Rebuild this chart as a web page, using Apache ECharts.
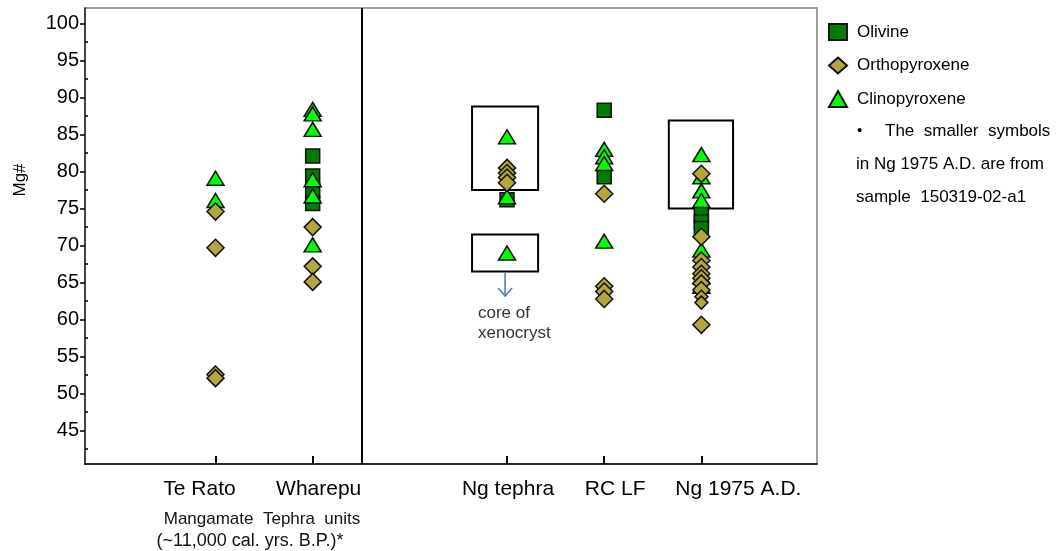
<!DOCTYPE html>
<html>
<head>
<meta charset="utf-8">
<script src="https://cdn.jsdelivr.net/npm/echarts@6/dist/echarts.min.js"></script>
<style>
  html, body { margin: 0; padding: 0; background: #fff; }
  #chart { width: 1062px; height: 551px; }
</style>
</head>
<body>
<div id="chart"></div>
<script>
// Sample units along the x axis and where each sits on it
const units = ['Te Rato', 'Wharepu', 'Ng tephra', 'RC LF', 'Ng 1975 A.D.'];
const unitPos = [1, 2, 4, 5, 6];

// Mg# values, one list per unit (same order as `units`)
const olivine = [
  [],
  [82.1, 79.4, 77.4, 75.7],
  [76.2],
  [88.3, 79.3],
  [74.3, 73.2, 72.3]
];
const clinopyroxene = [
  [79.1, 76.1],
  [88.4, 87.8, 85.7, 78.9, 76.7, 70.1],
  [84.7, 76.6, 69.0],
  [83.0, 82.0, 81.1, 70.6],
  [82.3, 79.3, 77.4, 76.1, 69.4, 65.8, 64.5]
];
const orthopyroxene = [
  [74.6, 69.7, 52.6, 52.1],
  [72.5, 67.2, 65.1],
  [80.5, 79.8, 79.2, 78.5],
  [77.0, 64.5, 63.8, 62.8],
  [79.7, 71.2, 68.0, 67.1, 66.2, 65.6, 64.9, 64.0, 59.3]
];
// sample 150319-02-a1 (Ng 1975 A.D.), drawn with smaller symbols
const orthopyroxeneSmall = [[], [], [], [], [63.1, 62.3]];

// y axis ticks
const yTicks = [45, 50, 55, 60, 65, 70, 75, 80, 85, 90, 95, 100];
const yMinorTicks = [42.5, 47.5, 52.5, 57.5, 62.5, 67.5, 72.5, 77.5, 82.5, 87.5, 92.5, 97.5];

// outlined groups (x from, x to, Mg# from, Mg# to)
const boxX0 = [3.64, 3.64, 5.665];
const boxX1 = [4.32, 4.32, 6.326];
const boxY0 = [77.5, 66.5, 75.0];
const boxY1 = [88.8, 71.5, 86.9];

// arrow below the xenocryst box (x, Mg# from, Mg# to)
const arrowX = [3.98];
const arrowFrom = [66.3];
const arrowTo = [63.2];

// boundary between Mangamate units and younger units
const unitBoundary = 2.5;

const FONT = '"Liberation Sans", Arial, Helvetica, sans-serif';

function points(lists) {
  const out = [];
  lists.forEach((vals, i) => vals.forEach(v => out.push([unitPos[i], v])));
  return out;
}

// horizontal nudge of each unit label (px), applied as rich-text padding
const labelShift = { 1: -16, 2: 6, 4: 1, 5: 11, 6: 37 };
const rich = {};
unitPos.forEach(p => {
  const s = labelShift[p];
  rich['u' + p] = {
    fontSize: 21, fontFamily: FONT, color: '#000',
    padding: s >= 0 ? [0, 0, 0, 2 * s] : [0, -2 * s, 0, 0]
  };
});

const chart = echarts.init(document.getElementById('chart'), null, { renderer: 'canvas' });

const markerBorder = { borderColor: '#111', borderWidth: 1.5 };

chart.setOption({
  animation: false,
  backgroundColor: '#fff',
  textStyle: { fontFamily: FONT },
  grid: {
    left: 85, right: 245, top: 8, bottom: 87,
    show: true, borderColor: '#808080', borderWidth: 1.5, backgroundColor: 'transparent'
  },
  legend: {
    orient: 'vertical',
    left: 828, top: 23,
    padding: 0,
    itemWidth: 18, itemHeight: 16, itemGap: 15.5,
    data: ['Olivine', 'Orthopyroxene', 'Clinopyroxene'],
    textStyle: { fontSize: 17, color: '#000', fontFamily: FONT, padding: [0, 0, 0, 5] }
  },
  xAxis: {
    type: 'value',
    min: -0.343, max: 7.19,
    splitLine: { show: false },
    axisLine: { show: true, onZero: false, lineStyle: { color: '#000', width: 1.5 } },
    axisTick: { show: true, inside: true, length: 8, customValues: unitPos, lineStyle: { color: '#000', width: 2 } },
    axisLabel: {
      customValues: unitPos,
      margin: 15,
      formatter: v => {
        const i = unitPos.indexOf(v);
        return i < 0 ? '' : '{u' + v + '|' + units[i] + '}';
      },
      rich: rich
    }
  },
  yAxis: [{
    type: 'value',
    min: 40.5, max: 102.1,
    splitLine: { show: false },
    axisLine: { show: true, onZero: false, lineStyle: { color: '#222', width: 1.5 } },
    axisTick: { show: true, length: 5, customValues: yTicks, lineStyle: { color: '#000', width: 1.5 } },
    axisLabel: { customValues: yTicks, margin: 6, fontSize: 20, color: '#000', fontFamily: FONT }
  }, {
    type: 'value',
    min: 40.5, max: 102.1,
    position: 'left',
    offset: 0,
    splitLine: { show: false },
    axisLine: { show: false, onZero: false },
    axisTick: { show: true, inside: true, length: 3, customValues: yMinorTicks, lineStyle: { color: '#000', width: 1.5 } },
    axisLabel: { show: false }
  }],
  graphic: [
    { type: 'text', x: 20, y: 180, rotation: Math.PI / 2,
      style: { text: 'Mg#', fontSize: 17, fontFamily: FONT, fill: '#000', align: 'center', verticalAlign: 'middle' } },
    { type: 'text', x: 262, y: 519,
      style: { text: 'Mangamate  Tephra  units', fontSize: 17, fontFamily: FONT, fill: '#111', align: 'center', verticalAlign: 'middle' } },
    { type: 'text', x: 250, y: 541,
      style: { text: '(~11,000 cal. yrs. B.P.)*', fontSize: 18, fontFamily: FONT, fill: '#111', align: 'center', verticalAlign: 'middle' } },
    { type: 'text', x: 478, y: 313,
      style: { text: 'core of', fontSize: 17, fontFamily: FONT, fill: '#333', align: 'left', verticalAlign: 'middle' } },
    { type: 'text', x: 478, y: 333,
      style: { text: 'xenocryst', fontSize: 17, fontFamily: FONT, fill: '#333', align: 'left', verticalAlign: 'middle' } },
    { type: 'text', x: 857, y: 131,
      style: { text: '•', fontSize: 15, fontFamily: FONT, fill: '#000', align: 'left', verticalAlign: 'middle' } },
    { type: 'text', x: 885, y: 131,
      style: { text: 'The  smaller  symbols', fontSize: 17, fontFamily: FONT, fill: '#000', align: 'left', verticalAlign: 'middle' } },
    { type: 'text', x: 856, y: 164,
      style: { text: 'in Ng 1975 A.D. are from', fontSize: 17, fontFamily: FONT, fill: '#000', align: 'left', verticalAlign: 'middle' } },
    { type: 'text', x: 856, y: 197,
      style: { text: 'sample  150319-02-a1', fontSize: 17, fontFamily: FONT, fill: '#000', align: 'left', verticalAlign: 'middle' } }
  ],
  series: [
    {
      // outlined groups + unit boundary
      type: 'custom',
      silent: true,
      z: 1,
      encode: { x: [0, 1], y: [2, 3] },
      data: boxX0.map((x, i) => [x, boxX1[i], boxY0[i], boxY1[i]]),
      renderItem: (params, api) => {
        const a = api.coord([api.value(0), api.value(3)]);
        const b = api.coord([api.value(1), api.value(2)]);
        return {
          type: 'rect',
          shape: { x: a[0], y: a[1], width: b[0] - a[0], height: b[1] - a[1] },
          style: { fill: 'none', stroke: '#000', lineWidth: 2 }
        };
      },
      markLine: {
        silent: true,
        symbol: 'none',
        label: { show: false },
        lineStyle: { color: '#000', width: 2, type: 'solid' },
        data: [{ xAxis: unitBoundary }]
      }
    },
    {
      // arrow
      type: 'custom',
      silent: true,
      z: 1,
      encode: { x: 0, y: [1, 2] },
      data: arrowX.map((x, i) => [x, arrowFrom[i], arrowTo[i]]),
      renderItem: (params, api) => {
        const p0 = api.coord([api.value(0), api.value(1)]);
        const p1 = api.coord([api.value(0), api.value(2)]);
        const st = { stroke: '#4f81bd', lineWidth: 1.6, fill: 'none' };
        return {
          type: 'group',
          children: [
            { type: 'line', shape: { x1: p0[0], y1: p0[1], x2: p1[0], y2: p1[1] }, style: st },
            { type: 'polyline', shape: { points: [[p1[0] - 7, p1[1] - 8], [p1[0], p1[1]], [p1[0] + 7, p1[1] - 8]] }, style: st }
          ]
        };
      }
    },
    {
      name: 'Olivine',
      type: 'scatter',
      symbol: 'rect',
      symbolSize: 14,
      z: 3,
      itemStyle: Object.assign({ color: '#007d00', opacity: 1 }, markerBorder),
      data: points(olivine)
    },
    {
      name: 'Clinopyroxene',
      type: 'scatter',
      symbol: 'triangle',
      symbolSize: [17, 14],
      z: 3,
      itemStyle: Object.assign({ color: '#00ff00', opacity: 1 }, markerBorder),
      data: points(clinopyroxene)
    },
    {
      name: 'Orthopyroxene',
      type: 'scatter',
      symbol: 'diamond',
      symbolSize: [17, 17],
      z: 3,
      itemStyle: Object.assign({ color: '#b3a63a', opacity: 1 }, markerBorder),
      data: points(orthopyroxene)
    },
    {
      name: 'Orthopyroxene',
      type: 'scatter',
      symbol: 'diamond',
      symbolSize: [13, 13],
      z: 3,
      itemStyle: Object.assign({ color: '#b3a63a', opacity: 1 }, markerBorder),
      data: points(orthopyroxeneSmall)
    }
  ]
});
</script>
</body>
</html>
